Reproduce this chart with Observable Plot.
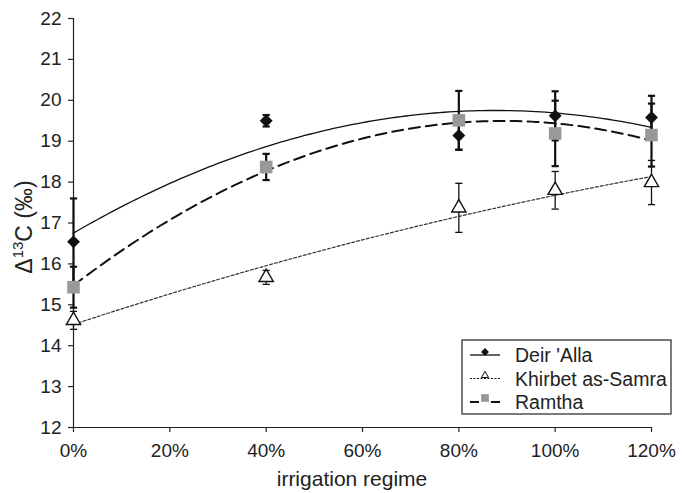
<!DOCTYPE html>
<html>
<head>
<meta charset="utf-8">
<script src="https://cdn.jsdelivr.net/npm/d3@7"></script>
<script src="https://cdn.jsdelivr.net/npm/@observablehq/plot@0.6"></script>
<style>
  body { margin: 0; background: #fff; }
  #chart { position: relative; width: 683px; height: 493px; }
</style>
</head>
<body>
<div id="chart"></div>
<script>
// ---------- data ----------
const regimes = [0, 40, 80, 100, 120];           // irrigation regime, %
const xTicks = [0, 20, 40, 60, 80, 100, 120];
const yTicks = [12, 13, 14, 15, 16, 17, 18, 19, 20, 21, 22];
const siteNames = ["Deir 'Alla", "Khirbet as-Samra", "Ramtha"];

const deirAlla    = [16.54, 19.50, 19.14, 19.62, 19.58];
const deirAllaErr = [1.06, 0.14, 0.35, 0.60, 0.53];

const khirbet     = [14.62, 15.67, 17.37, 17.80, 17.99];
const khirbetErr  = [0.22, 0.17, 0.60, 0.46, 0.54];

const ramtha      = [15.43, 18.37, 19.51, 19.19, 19.15];
const ramthaErr   = [0.50, 0.32, 0.72, 0.80, 0.77];

// ---------- helpers ----------
function rows(site, vals, errs) {
  return regimes.map((x, i) => ({site, x, v: vals[i], e: errs[i]}));
}
// least-squares 2nd-order polynomial trendline (as in the original spreadsheet)
function quadFit(xs, ys) {
  const S = [0, 0, 0, 0, 0], T = [0, 0, 0];
  xs.forEach((x, i) => {
    for (let k = 0; k < 5; k++) S[k] += x ** k;
    for (let k = 0; k < 3; k++) T[k] += ys[i] * x ** k;
  });
  const M = [[S[0], S[1], S[2]], [S[1], S[2], S[3]], [S[2], S[3], S[4]]];
  const det = m => m[0][0]*(m[1][1]*m[2][2]-m[1][2]*m[2][1]) - m[0][1]*(m[1][0]*m[2][2]-m[1][2]*m[2][0]) + m[0][2]*(m[1][0]*m[2][1]-m[1][1]*m[2][0]);
  const D = det(M);
  return [0, 1, 2].map(j => det(M.map((r, i) => r.map((v, k) => k === j ? T[i] : v))) / D);
}
function trend(vals) {
  const [a, b, c] = quadFit(regimes.map(x => x / 100), vals);
  return d3.range(0, 120.001, 1).map(x => ({x, y: a + b * (x / 100) + c * (x / 100) ** 2}));
}
const cap = {
  draw(context) {
    context.moveTo(-3.6, 0);
    context.lineTo(3.6, 0);
  }
};

const dDeir = rows(siteNames[0], deirAlla, deirAllaErr);
const dKhir = rows(siteNames[1], khirbet, khirbetErr);
const dRam  = rows(siteNames[2], ramtha, ramthaErr);

function errorBars(data, w) {
  return [
    Plot.ruleX(data, {x: "x", y1: d => d.v - d.e, y2: d => d.v + d.e, stroke: "#111", strokeWidth: w}),
    Plot.dot(data, {x: "x", y: d => d.v - d.e, symbol: cap, r: 3, stroke: "#111", strokeWidth: w, fill: "none"}),
    Plot.dot(data, {x: "x", y: d => d.v + d.e, symbol: cap, r: 3, stroke: "#111", strokeWidth: w, fill: "none"})
  ];
}

const W = 683, H = 493;
const svg = Plot.plot({
  width: W,
  height: H,
  marginLeft: 73,
  marginRight: 32,
  marginTop: 18,
  marginBottom: 66,
  style: {fontFamily: "'Liberation Sans', Arial, sans-serif", fontSize: "19px", color: "#222", background: "#fff", overflow: "visible"},
  x: {domain: [0, 120]},
  y: {domain: [12, 22]},
  marks: [
    Plot.axisX({ticks: xTicks, tickFormat: d => d + "%", tickSize: 5, tickPadding: 11, label: null, stroke: "#222", strokeWidth: 1.2}),
    Plot.axisY({ticks: yTicks, tickSize: 5, tickPadding: 7, label: null, stroke: "#222", strokeWidth: 1.2}),
    Plot.line(trend(khirbet), {x: "x", y: "y", stroke: "#333", strokeWidth: 1.2, strokeDasharray: "3,2"}),
    Plot.line(trend(ramtha), {x: "x", y: "y", stroke: "#111", strokeWidth: 2, strokeDasharray: "11,6"}),
    Plot.line(trend(deirAlla), {x: "x", y: "y", stroke: "#111", strokeWidth: 1.3}),
    Plot.ruleX([0], {stroke: "#222", strokeWidth: 1.2}),
    Plot.ruleY([12], {stroke: "#222", strokeWidth: 1.2}),
    ...errorBars(dKhir, 1.3),
    ...errorBars(dRam, 2.2),
    ...errorBars(dDeir, 2.2),
    Plot.dot(dKhir, {x: "x", y: "v", symbol: "triangle", r: 5.3, fill: "#fff", stroke: "#111", strokeWidth: 1.4}),
    Plot.dot(dRam, {x: "x", y: "v", symbol: "square", r: 7.1, fill: "#999", stroke: "none"}),
    Plot.dot(dDeir, {x: "x", y: "v", symbol: "diamond2", r: 5.8, fill: "#111", stroke: "none"})
  ]
});
document.getElementById("chart").appendChild(svg);

const s = d3.select(svg);
// axis titles
s.append("text")
  .attr("x", 352).attr("y", 486)
  .attr("text-anchor", "middle")
  .attr("font-size", 21).attr("fill", "#222")
  .text("irrigation regime");
const yt = s.append("text")
  .attr("transform", "translate(32,227) rotate(-90)")
  .attr("text-anchor", "middle")
  .attr("font-size", 23).attr("fill", "#222");
yt.append("tspan").text("Δ");
yt.append("tspan").attr("font-size", 15).attr("dy", -9).text("13");
yt.append("tspan").attr("dy", 9).text("C (‰)");

// legend
const lg = s.append("g").attr("transform", "translate(462,340)");
lg.append("rect").attr("width", 209).attr("height", 74).attr("fill", "#fff").attr("stroke", "#222").attr("stroke-width", 1.2);
const items = [
  {name: siteNames[0], dash: null, sw: 1.3, sym: d3.symbolDiamond2, size: 40, fill: "#111", stroke: "none", dy: -3},
  {name: siteNames[1], dash: "2,1.5", sw: 1, sym: d3.symbolTriangle, size: 22, fill: "#fff", stroke: "#111", dy: -3},
  {name: siteNames[2], dash: "9,12", sw: 1.8, sym: d3.symbolSquare, size: 60, fill: "#999", stroke: "none", dy: -4}
];
items.forEach((it, i) => {
  const y = 15 + i * 23.5;
  const g = lg.append("g").attr("transform", `translate(0,${y})`);
  const ln = g.append("line").attr("x1", 8).attr("x2", 38).attr("y1", 0).attr("y2", 0)
    .attr("stroke", "#111").attr("stroke-width", it.sw);
  if (it.dash) ln.attr("stroke-dasharray", it.dash);
  g.append("path").attr("d", d3.symbol(it.sym, it.size)()).attr("transform", `translate(23,${it.dy})`)
    .attr("fill", it.fill).attr("stroke", it.stroke).attr("stroke-width", 1);
  g.append("text").attr("x", 53).attr("y", 7).attr("text-anchor", "start")
    .attr("font-size", 19.5).attr("fill", "#222").text(it.name);
});
</script>
</body>
</html>
